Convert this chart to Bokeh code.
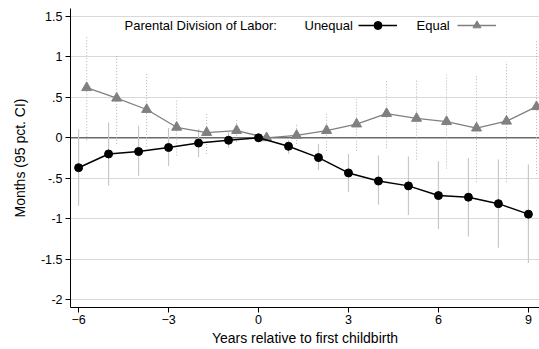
from bokeh.plotting import figure
from bokeh.models import (Range1d, FixedTicker, CustomJSTickFormatter, Span, Label,
                          Legend, LegendItem, ColumnDataSource)
from bokeh.embed import file_html
from bokeh.resources import INLINE

# ---- data ----
years = [-6, -5, -4, -3, -2, -1, 0, 1, 2, 3, 4, 5, 6, 7, 8, 9]
unequal = [-0.37, -0.20, -0.17, -0.12, -0.065, -0.03, 0.0, -0.105, -0.245, -0.435,
           -0.535, -0.595, -0.715, -0.735, -0.815, -0.945]
unequal_lo = [-0.84, -0.59, -0.47, -0.35, -0.24, -0.12, 0.0, -0.20, -0.40, -0.67,
              -0.83, -0.955, -1.13, -1.22, -1.36, -1.55]
unequal_hi = [0.105, 0.19, 0.15, 0.12, 0.11, 0.07, 0.0, -0.03, -0.075, -0.20,
              -0.22, -0.23, -0.29, -0.25, -0.27, -0.33]
equal = [0.62, 0.49, 0.35, 0.13, 0.065, 0.09, 0.0, 0.03, 0.09, 0.17,
         0.30, 0.24, 0.20, 0.12, 0.205, 0.385]
equal_lo = [-0.03, -0.075, -0.115, -0.22, -0.20, -0.05, 0.0, -0.075, -0.16, -0.16,
            -0.13, -0.27, -0.38, -0.55, -0.55, -0.45]
equal_hi = [1.26, 1.03, 0.80, 0.47, 0.30, 0.235, 0.0, 0.16, 0.31, 0.48,
            0.71, 0.73, 0.78, 0.79, 0.94, 1.21]
x_ticks = [-6, -3, 0, 3, 6, 9]
y_ticks = [-2, -1.5, -1, -0.5, 0, 0.5, 1, 1.5]
equal_offset = 0.27

FONT = "Liberation Sans"

src_u = ColumnDataSource(dict(x=years, y=unequal, lo=unequal_lo, hi=unequal_hi))
src_e = ColumnDataSource(dict(x=[v + equal_offset for v in years], y=equal,
                              lo=equal_lo, hi=equal_hi))

p = figure(width=539, height=349, output_backend="svg", toolbar_location=None,
           x_range=Range1d(-6.27, 9.37), y_range=Range1d(-2.1, 1.6),
           min_border_left=70, min_border_right=0, min_border_top=8, min_border_bottom=42)
p.outline_line_color = None
p.background_fill_color = "white"
p.border_fill_color = "white"

# grid
p.xgrid.visible = False
p.ygrid.ticker = FixedTicker(ticks=y_ticks)
p.ygrid.grid_line_color = "#d9d9d9"
p.ygrid.grid_line_width = 1

zero = Span(location=0, dimension="width", line_color="#6a6a6a", line_width=1.5, level="underlay")
p.add_layout(zero)

# axes
for ax in (p.xaxis[0], p.yaxis[0]):
    ax.axis_line_color = "black"
    ax.axis_line_width = 1
    ax.major_tick_line_color = "black"
    ax.major_tick_in = 0
    ax.major_tick_out = 5
    ax.minor_tick_line_color = None
    ax.major_label_text_font = FONT
    ax.major_label_text_font_size = "12.5px"
    ax.major_label_text_color = "black"
    ax.axis_label_text_font = FONT
    ax.axis_label_text_font_style = "normal"
    ax.axis_label_text_color = "black"

p.xaxis.ticker = FixedTicker(ticks=x_ticks)
p.yaxis.ticker = FixedTicker(ticks=y_ticks)
p.yaxis.formatter = CustomJSTickFormatter(code="return String(tick).replace(/^(-?)0\\./, '$1.');")
p.xaxis.axis_label = "Years relative to first childbirth"
p.yaxis.axis_label = "Months (95 pct. CI)"
p.xaxis.axis_label_text_font_size = "14px"
p.yaxis.axis_label_text_font_size = "14px"
p.xaxis.major_label_standoff = 2
p.yaxis.major_label_standoff = 3
p.xaxis.axis_label_standoff = 3
p.yaxis.axis_label_standoff = 10

# confidence intervals
p.segment(x0="x", y0="lo", x1="x", y1="hi", source=src_u, line_color="#c8c8c8", line_width=1.2)
p.segment(x0="x", y0="lo", x1="x", y1="hi", source=src_e, line_color="#b4b4b4", line_width=1,
          line_dash="1 2")

# series
le = p.line("x", "y", source=src_e, line_color="#808080", line_width=1.3)
se = p.scatter("x", "y", source=src_e, marker="triangle", size=10,
               fill_color="#808080", line_color="#808080")
lu = p.line("x", "y", source=src_u, line_color="black", line_width=1.5)
su = p.scatter("x", "y", source=src_u, marker="circle", size=8,
               fill_color="black", line_color="black")

# legend (text labels + glyph keys)
for txt, xs in (("Parental Division of Labor:", 54), ("Unequal", 234), ("Equal", 346)):
    p.add_layout(Label(x=xs, y=282, x_units="screen", y_units="screen", text=txt,
                       text_font=FONT, text_font_size="13px", text_color="black",
                       text_baseline="middle"))

legend = Legend(items=[LegendItem(label=" ", renderers=[lu, su]),
                       LegendItem(label=" ", renderers=[le, se])],
                location=(288, 272), orientation="horizontal",
                glyph_width=39, glyph_height=20, label_width=20, label_standoff=5,
                spacing=35, padding=0, margin=0,
                border_line_color=None, background_fill_alpha=0)
p.add_layout(legend, "center")

open("out.html", "w").write(file_html(p, INLINE))
